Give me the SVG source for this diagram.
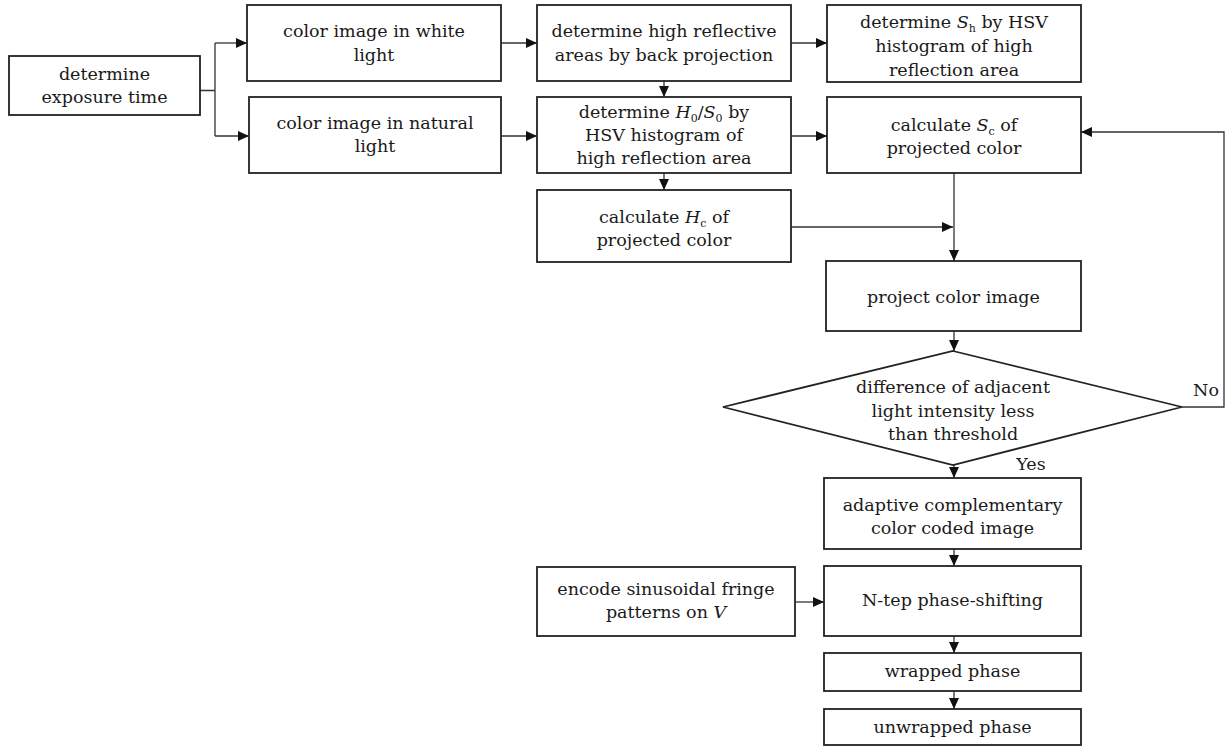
<svg xmlns="http://www.w3.org/2000/svg" width="1225" height="747" viewBox="0 0 1225 747">
<style>
.b{fill:#fff;stroke:#222;stroke-width:1.8}
.c{fill:none;stroke:#333;stroke-width:1.3}
text{font-family:"DejaVu Serif","Liberation Serif",serif;font-size:17.5px;fill:#1a1a1a;text-anchor:middle}
.i{font-style:italic}
.s{font-size:11px;baseline-shift:-4px}
</style>
<defs>
<marker id="a" markerUnits="userSpaceOnUse" markerWidth="12" markerHeight="10" refX="11" refY="5" orient="auto">
<path d="M0,0 L11,5 L0,10 Z" fill="#111"/>
</marker>
</defs>
<rect width="1225" height="747" fill="#fff"/>
<g id="connectors">
<path class="c" d="M200,90.5 H215 M215,43 V136"/>
<path class="c" d="M215,43 H247" marker-end="url(#a)"/>
<path class="c" d="M215,136 H249" marker-end="url(#a)"/>
<path class="c" d="M501,43 H537" marker-end="url(#a)"/>
<path class="c" d="M501,136 H537" marker-end="url(#a)"/>
<path class="c" d="M791,43 H827" marker-end="url(#a)"/>
<path class="c" d="M791,136 H827" marker-end="url(#a)"/>
<path class="c" d="M664,81 V97" marker-end="url(#a)"/>
<path class="c" d="M664,173 V190" marker-end="url(#a)"/>
<path class="c" d="M954,173 V261" marker-end="url(#a)"/>
<path class="c" d="M791,227 H953" marker-end="url(#a)"/>
<path class="c" d="M954,331 V351" marker-end="url(#a)"/>
<path class="c" d="M1182,407 H1224 V132 H1081" marker-end="url(#a)"/>
<path class="c" d="M954,465 V478" marker-end="url(#a)"/>
<path class="c" d="M954,549 V566" marker-end="url(#a)"/>
<path class="c" d="M795,602 H824" marker-end="url(#a)"/>
<path class="c" d="M954,636 V653" marker-end="url(#a)"/>
<path class="c" d="M954,691 V709" marker-end="url(#a)"/>
<text x="1206" y="396">No</text>
<text x="1031" y="470">Yes</text>
</g>
<g id="n1"><rect class="b" x="9" y="56" width="191" height="59"/>
<text x="104.5" y="80">determine</text><text x="104.5" y="103">exposure time</text></g>
<g id="n2"><rect class="b" x="247" y="5" width="254" height="76"/>
<text x="374" y="37">color image in white</text><text x="374" y="61">light</text></g>
<g id="n3"><rect class="b" x="249" y="97" width="252" height="76"/>
<text x="375" y="129">color image in natural</text><text x="375" y="152">light</text></g>
<g id="n4"><rect class="b" x="537" y="5" width="254" height="76"/>
<text x="664" y="37">determine high reflective</text><text x="664" y="61">areas by back projection</text></g>
<g id="n5"><rect class="b" x="537" y="97" width="254" height="76"/>
<text x="664" y="118">determine <tspan class="i">H</tspan><tspan class="s">0</tspan>/<tspan class="i">S</tspan><tspan class="s">0</tspan> by</text>
<text x="664" y="141">HSV histogram of</text><text x="664" y="164">high reflection area</text></g>
<g id="n6"><rect class="b" x="827" y="5" width="254" height="77"/>
<text x="954" y="28">determine <tspan class="i">S</tspan><tspan class="s">h</tspan> by HSV</text>
<text x="954" y="52">histogram of high</text><text x="954" y="76">reflection area</text></g>
<g id="n7"><rect class="b" x="827" y="97" width="254" height="76"/>
<text x="954" y="131">calculate <tspan class="i">S</tspan><tspan class="s">c</tspan> of</text>
<text x="954" y="154">projected color</text></g>
<g id="n8"><rect class="b" x="537" y="190" width="254" height="72"/>
<text x="664" y="223">calculate <tspan class="i">H</tspan><tspan class="s">c</tspan> of</text>
<text x="664" y="246">projected color</text></g>
<g id="n9"><rect class="b" x="826" y="261" width="255" height="70"/>
<text x="953.5" y="303">project color image</text></g>
<g id="n10"><polygon class="b" points="953,351 1182,407 953,465 723,407"/>
<text x="953" y="393">difference of adjacent</text><text x="953" y="417">light intensity less</text><text x="953" y="440">than threshold</text></g>
<g id="n11"><rect class="b" x="824" y="478" width="257" height="71"/>
<text x="952.5" y="511">adaptive complementary</text><text x="952.5" y="534">color coded image</text></g>
<g id="n12"><rect class="b" x="537" y="567" width="258" height="69"/>
<text x="666" y="595">encode sinusoidal fringe</text><text x="666" y="618">patterns on <tspan class="i">V</tspan></text></g>
<g id="n13"><rect class="b" x="824" y="566" width="257" height="70"/>
<text x="952.5" y="606">N-tep phase-shifting</text></g>
<g id="n14"><rect class="b" x="824" y="653" width="257" height="38"/>
<text x="952.5" y="677">wrapped phase</text></g>
<g id="n15"><rect class="b" x="824" y="709" width="257" height="36"/>
<text x="952.5" y="733">unwrapped phase</text></g>
</svg>
